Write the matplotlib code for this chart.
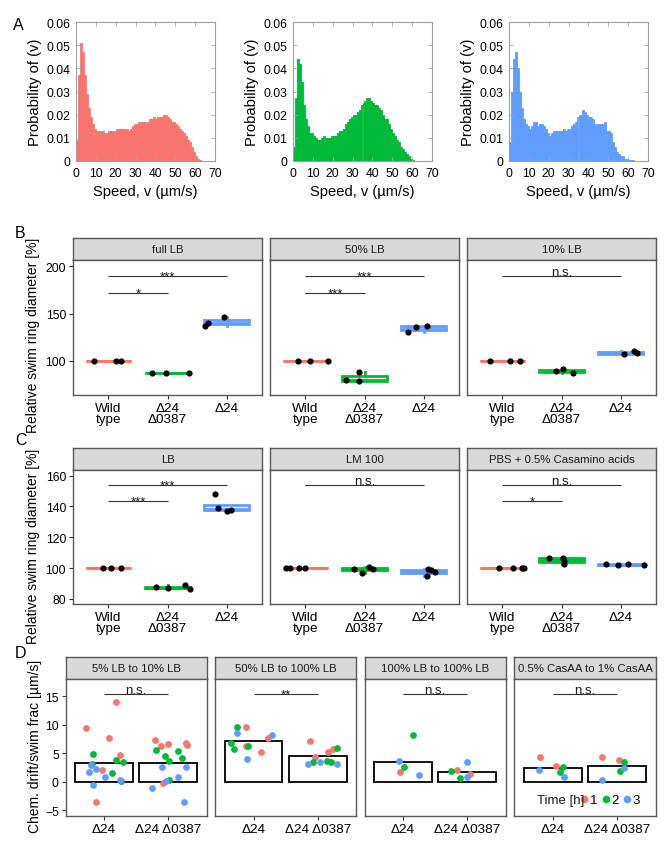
import numpy as np
import matplotlib
matplotlib.use('Agg')
import matplotlib.pyplot as plt
from matplotlib.lines import Line2D
from matplotlib.ticker import FuncFormatter

plt.rcParams['font.family'] = ['Liberation Sans', 'DejaVu Sans']

RED, GREEN, BLUE = '#F8766D', '#00BA38', '#619CFF'
STRAIN_COLORS = [RED, GREEN, BLUE]
TIME_COLORS = [RED, GREEN, BLUE]

# ---------------- Panel A: speed histograms (1 um/s bins starting at 0) -------------
hist_wt = [0.009, 0.037, 0.051, 0.047, 0.037, 0.029, 0.023, 0.019, 0.016, 0.014,
           0.013, 0.013, 0.013, 0.013, 0.012, 0.012, 0.013, 0.013, 0.013, 0.013,
           0.014, 0.014, 0.014, 0.014, 0.014, 0.014, 0.013, 0.014, 0.015, 0.016,
           0.016, 0.017, 0.017, 0.017, 0.017, 0.016, 0.017, 0.018, 0.018, 0.019,
           0.018, 0.019, 0.019, 0.019, 0.020, 0.020, 0.019, 0.018, 0.017, 0.017,
           0.016, 0.015, 0.014, 0.013, 0.012, 0.011, 0.009, 0.008, 0.006, 0.004,
           0.002, 0.001, 0.0005]
hist_dd = [0.006, 0.027, 0.044, 0.042, 0.034, 0.024, 0.018, 0.015, 0.012, 0.012,
           0.011, 0.010, 0.009, 0.009, 0.010, 0.011, 0.010, 0.010, 0.010, 0.011,
           0.011, 0.011, 0.012, 0.013, 0.013, 0.014, 0.016, 0.017, 0.018, 0.019,
           0.020, 0.020, 0.021, 0.022, 0.024, 0.025, 0.026, 0.027, 0.027, 0.026,
           0.025, 0.024, 0.024, 0.023, 0.022, 0.020, 0.018, 0.018, 0.016, 0.014,
           0.012, 0.011, 0.009, 0.008, 0.006, 0.005, 0.004, 0.003, 0.002, 0.001,
           0.0005]
hist_d = [0.008, 0.030, 0.044, 0.047, 0.040, 0.030, 0.023, 0.018, 0.016, 0.015,
          0.014, 0.015, 0.017, 0.017, 0.015, 0.016, 0.016, 0.015, 0.014, 0.012,
          0.011, 0.012, 0.013, 0.013, 0.013, 0.013, 0.013, 0.014, 0.013, 0.014,
          0.014, 0.015, 0.016, 0.017, 0.019, 0.020, 0.020, 0.022, 0.021, 0.020,
          0.019, 0.019, 0.018, 0.016, 0.016, 0.016, 0.016, 0.016, 0.017, 0.013,
          0.013, 0.012, 0.008, 0.006, 0.004, 0.003, 0.002, 0.002, 0.001, 0.001,
          0.0005, 0.0005, 0.0005]
hist_series = [hist_wt, hist_dd, hist_d]

# ---------------- Panel B / C: relative swim ring diameters -------------------------
strain_labels = ['Wild\ntype', 'Δ24\nΔ0387', 'Δ24']

b_conditions = ['full LB', '50% LB', '10% LB']
b_full_lb = [[100, 100, 100], [87.5, 87, 87], [137, 140, 146]]
b_full_lb_jit = [[-0.25, 0.13, 0.22], [-0.27, -0.03, 0.36], [-0.36, -0.32, -0.05]]
b_50_lb = [[100, 100, 100], [79.2, 87.7, 78.8], [130, 136, 137]]
b_50_lb_jit = [[-0.12, 0.08, 0.38], [-0.32, -0.10, -0.09], [-0.27, -0.13, 0.06]]
b_10_lb = [[100, 100, 100], [88.8, 91.5, 87], [106.8, 110.3, 108.5]]
b_10_lb_jit = [[-0.21, 0.13, 0.29], [-0.10, 0.02, 0.19], [0.06, 0.23, 0.28]]
b_sig = [[('***', 1, 3, 189.4), ('*', 1, 2, 172)],
         [('***', 1, 3, 189.4), ('***', 1, 2, 172)],
         [('n.s.', 1, 3, 189.4)]]

c_conditions = ['LB', 'LM 100', 'PBS + 0.5% Casamino acids']
c_lb = [[100, 100, 100], [87.6, 86.9, 88.9, 86.5], [148.3, 138.8, 137.2, 137.9]]
c_lb_jit = [[-0.10, 0.04, 0.21], [-0.19, 0.0, 0.30, 0.38], [-0.19, -0.14, 0.01, 0.08]]
c_lm100 = [[100, 100, 100, 100], [99.6, 96.7, 100.9, 99.2], [94.8, 99.6, 98.7, 97.4]]
c_lm100_jit = [[-0.33, -0.26, -0.11, 0.0], [-0.17, -0.04, 0.08, 0.14], [0.05, 0.08, 0.13, 0.20]]
c_pbs = [[100, 100, 100, 100], [106.3, 106.3, 104.6, 102.9], [102.5, 101.7, 102.9, 101.8]]
c_pbs_jit = [[-0.06, 0.18, 0.33, 0.37], [-0.21, 0.03, 0.04, 0.05], [-0.25, -0.04, 0.12, 0.39]]
c_sig = [[('***', 1, 3, 154.1), ('***', 1, 2, 143.5)],
         [('n.s.', 1, 3, 154.1)],
         [('n.s.', 1, 3, 154.1), ('*', 1, 2, 143.5)]]

# ---------------- Panel D: chemotactic drift / swimming fraction --------------------
d_conditions = ['5% LB to 10% LB', '50% LB to 100% LB', '100% LB to 100% LB',
                '0.5% CasAA to 1% CasAA']
d_strains = ['Δ24', 'Δ24 Δ0387']
# each facet: [strain][time index 0..2] -> values ; jitter mirrors the structure
d_5_10 = [[[9.42, 7.72, 4.74, 2.05, -3.56, 14.0], [4.86, 3.86, 3.46, 1.53, 0.12, 3.16],
           [2.93, 1.75, 2.17, 0.88, 0.3, -0.58]],
          [[7.37, 6.32, 6.56, 6.74, 6.44, -0.23], [5.61, 4.56, 3.58, 5.44, 4.1, 0.35],
           [2.52, -1.1, 0.18, 0.82, 2.63, -3.6]]]
d_5_10_jit = [[[-0.28, 0.07, 0.24, -0.04, -0.13, 0.19], [-0.18, 0.18, 0.29, 0.13, 0.26, -0.19],
               [-0.20, -0.24, -0.13, 0.02, 0.25, -0.18]],
              [[-0.21, -0.12, -0.01, 0.28, 0.29, -0.08], [-0.19, -0.05, 0.01, 0.15, 0.22, 0.01],
               [-0.09, -0.26, -0.04, 0.15, 0.27, 0.25]]]
d_50_100 = [[[9.6, 6.32, 5.26, 7.72], [9.65, 6.79, 5.74, 6.26], [8.6, 3.98, 8.19]],
            [[7.09, 4.39, 5.16, 5.74], [3.51, 3.68, 3.51, 5.91], [3.1, 3.46, 3.16]]]
d_50_100_jit = [[[-0.11, -0.11, 0.12, 0.22], [-0.26, -0.35, -0.30, -0.08], [-0.26, -0.10, 0.28]],
                [[-0.12, -0.04, 0.16, 0.23], [-0.07, 0.14, 0.20, 0.30], [-0.15, 0.04, 0.30]]]
d_100_100 = [[[1.65], [8.25, 2.58], [3.58, 1.18]],
             [[2.05, 1.35], [1.93, 0.65], [3.51, 0.77]]]
d_100_100_jit = [[[-0.05], [0.15, 0.02], [-0.07, 0.24]],
                 [[-0.16, 0.04], [-0.26, -0.11], [0.0, 0.0]]]
d_casaa = [[[4.28, 2.7], [2.58, 1.7], [2.11, 0.77]],
           [[4.28, 3.75], [3.51, 1.93], [2.46, 0.35]]]
d_casaa_jit = [[[-0.20, 0.05], [0.15, 0.11], [-0.21, 0.17]],
               [[-0.23, 0.03], [0.10, 0.05], [0.10, -0.23]]]
d_sig = ['n.s.', '**', 'n.s.', 'n.s.']
time_labels = ['1', '2', '3']

# ---------------- figure -------------------------------------------------------------
W, H = 672, 853
fig = plt.figure(figsize=(W / 100, H / 100), dpi=100)


def rect(l, t, r, b):
    return [l / W, 1 - b / H, (r - l) / W, (b - t) / H]


PANEL_EDGE = '#595959'
TXT = '#1A1A1A'

# ----- A -----
a_x = [(76, 215), (293, 432), (509, 648)]
for (l, r), vals, col in zip(a_x, hist_series, STRAIN_COLORS):
    ax = fig.add_axes(rect(l, 23, r, 162))
    left_edges = np.arange(len(vals))
    ax.bar(left_edges, vals, width=1.0, align='edge', color=col, edgecolor=col,
           linewidth=0.6)
    ax.set_xlim(0, 70)
    ax.set_ylim(0, 0.06)
    ax.set_xticks(np.arange(0, 71, 10))
    ax.set_yticks(np.arange(0, 0.061, 0.01))
    ax.yaxis.set_major_formatter(FuncFormatter(lambda v, p: '0' if abs(v) < 1e-9 else f'{v:.2f}'))
    ax.tick_params(direction='in', top=True, right=True, length=3, width=0.6,
                   color='#A8A8A8', labelsize=8.7, pad=4)
    for s in ax.spines.values():
        s.set_color('#A0A0A0')
        s.set_linewidth(0.8)
        s.set_zorder(3)
    ax.set_xlabel('Speed, v (µm/s)', fontsize=10.6, labelpad=4)
    ax.set_ylabel('Probability of (v)', fontsize=10.6, labelpad=3)

fig.text(18 / W, 1 - 25 / H, 'A', fontsize=11.5, ha='center', va='center')
fig.text(20 / W, 1 - 233 / H, 'B', fontsize=11.5, ha='center', va='center')
fig.text(21 / W, 1 - 441 / H, 'C', fontsize=11.5, ha='center', va='center')
fig.text(21 / W, 1 - 653 / H, 'D', fontsize=11.5, ha='center', va='center')


def make_facet(l, r, strip_top, top, bottom, title):
    sax = fig.add_axes(rect(l, strip_top, r, top))
    sax.set_facecolor('#D9D9D9')
    sax.set_xticks([])
    sax.set_yticks([])
    for s in sax.spines.values():
        s.set_color(PANEL_EDGE)
        s.set_linewidth(1.0)
    sax.text(0.5, 0.5, title, transform=sax.transAxes, ha='center', va='center',
             fontsize=8.2, color=TXT)
    ax = fig.add_axes(rect(l, top, r, bottom))
    for s in ax.spines.values():
        s.set_color(PANEL_EDGE)
        s.set_linewidth(1.0)
    ax.tick_params(direction='out', length=3, width=0.8, color='#333333', pad=2)
    ax.tick_params(axis='x', labelsize=9.7)
    ax.tick_params(axis='y', labelsize=8.8)
    return ax


def add_sig(ax, label, x1, x2, y, fs=9.5):
    ax.plot([x1, x2], [y, y], color='#333333', lw=0.8, solid_capstyle='butt')
    off = -2.4 if '*' in label else 0.6
    ax.annotate(label, xy=((x1 + x2) / 2, y), xytext=(0, off), textcoords='offset points',
                ha='center', va='baseline', fontsize=fs, color=TXT)


facet_x3 = [(73, 262), (270, 459), (467, 656)]


def box_row(conds, datas, jits, sigs, strip_top, top, bottom, ylim, yticks):
    axes = []
    for k, ((l, r), cond, data, jit, sig) in enumerate(zip(facet_x3, conds, datas, jits, sigs)):
        ax = make_facet(l, r, strip_top, top, bottom, cond)
        for i, (vals, jj) in enumerate(zip(data, jit)):
            col = STRAIN_COLORS[i]
            ax.boxplot([vals], positions=[i + 1], widths=0.75, patch_artist=True,
                       showfliers=False, showcaps=False, whis=1.5,
                       boxprops=dict(facecolor='white', edgecolor=col, linewidth=2.0),
                       medianprops=dict(color=col, linewidth=2.0),
                       whiskerprops=dict(color=col, linewidth=2.0))
            ax.scatter(np.array(jj) + i + 1, vals, s=20, color='black', zorder=5,
                       linewidths=0)
        for lab, x1, x2, y in sig:
            add_sig(ax, lab, x1, x2, y)
        ax.set_xlim(0.4, 3.6)
        ax.set_ylim(*ylim)
        ax.set_xticks([1, 2, 3])
        ax.set_xticklabels(strain_labels)
        for t in ax.get_xticklabels():
            t.set_linespacing(0.95)
        ax.set_yticks(yticks)
        if k > 0:
            ax.tick_params(axis='y', left=False, labelleft=False)
        axes.append(ax)
    return axes


box_row(b_conditions, [b_full_lb, b_50_lb, b_10_lb], [b_full_lb_jit, b_50_lb_jit, b_10_lb_jit],
        b_sig, 239, 261, 396, (63.7, 206.7), [100, 150, 200])
box_row(c_conditions, [c_lb, c_lm100, c_pbs], [c_lb_jit, c_lm100_jit, c_pbs_jit],
        c_sig, 448.7, 470.7, 605, (76.6, 163.9), [80, 100, 120, 140, 160])

fig.text(33 / W, 1 - 335 / H, 'Relative swim ring diameter [%]', rotation=90,
         ha='center', va='center', fontsize=10)
fig.text(33 / W, 1 - 546 / H, 'Relative swim ring diameter [%]', rotation=90,
         ha='center', va='center', fontsize=10)

# ----- D -----
facet_x4 = [(65.7, 206.7), (215, 356.3), (364.7, 505.7), (514.3, 655.7)]
d_datas = [d_5_10, d_50_100, d_100_100, d_casaa]
d_jits = [d_5_10_jit, d_50_100_jit, d_100_100_jit, d_casaa_jit]
d_axes = []
for k, ((l, r), cond, data, jit, sig) in enumerate(zip(facet_x4, d_conditions, d_datas, d_jits, d_sig)):
    ax = make_facet(l, r, 657.7, 680, 816.7, cond)
    for i, (strain_vals, strain_jit) in enumerate(zip(data, jit)):
        allv = np.concatenate([np.array(v, dtype=float) for v in strain_vals])
        ax.bar(i + 1, allv.mean(), width=0.9, facecolor='white', edgecolor='black',
               linewidth=1.3, zorder=2)
        for t, (vals, jj) in enumerate(zip(strain_vals, strain_jit)):
            ax.scatter(np.array(jj) + i + 1, vals, s=24, color=TIME_COLORS[t],
                       zorder=4, linewidths=0)
    add_sig(ax, sig, 1, 2, 15.4)
    ax.set_xlim(0.4, 2.6)
    ax.set_ylim(-5.96, 18.0)
    ax.set_xticks([1, 2])
    ax.set_xticklabels(d_strains)
    ax.set_yticks([-5, 0, 5, 10, 15])
    if k > 0:
        ax.tick_params(axis='y', left=False, labelleft=False)
    d_axes.append(ax)

fig.text(35 / W, 1 - 746 / H, 'Chem. drift/swim frac [µm/s]', rotation=90,
         ha='center', va='center', fontsize=10)

# legend inside last facet
fig.text(536.7 / W, 1 - 801 / H, 'Time [h]', ha='left', va='center', fontsize=9.5, color=TXT)
handles = [Line2D([], [], marker='o', ls='', color=c, markersize=5.5, markeredgewidth=0)
           for c in TIME_COLORS]
d_axes[-1].legend(handles, time_labels, ncol=3, loc='center left',
                  bbox_to_anchor=(581 / W, 1 - 801 / H), bbox_transform=fig.transFigure,
                  frameon=False, handlelength=0.5, handletextpad=0.2, columnspacing=0.35,
                  fontsize=9.5, borderpad=0, borderaxespad=0)

fig.savefig('out.png', dpi=100)
